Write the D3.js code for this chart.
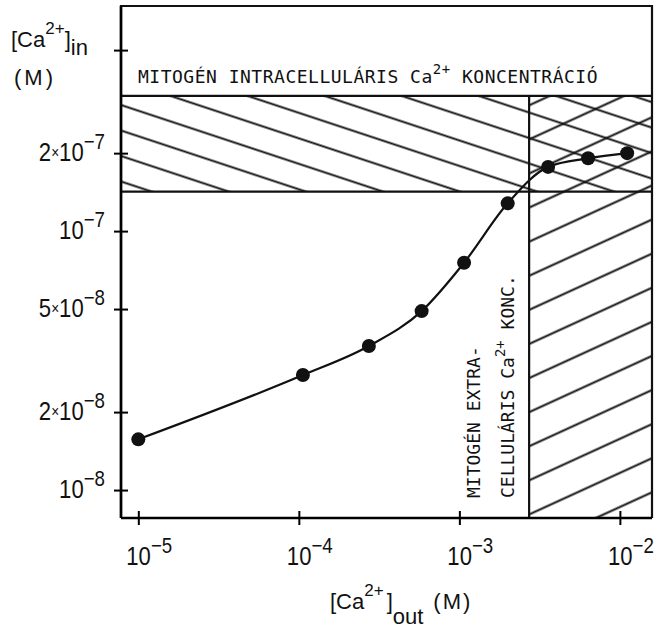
<!DOCTYPE html>
<html>
<head>
<meta charset="utf-8">
<script src="https://cdn.jsdelivr.net/npm/d3@7"></script>
<style>
  body { margin: 0; background: #fff; }
  svg { display: block; }
  .lbl { font-family: "Liberation Sans", Arial, sans-serif; fill: #111; }
  .mono { font-family: "DejaVu Sans Mono", monospace; fill: #111; }
</style>
</head>
<body>
<div id="chart"></div>
<script>
// data
const caOut = [1e-5, 1.06e-4, 2.73e-4, 5.82e-4, 1.07e-3, 2.0e-3, 3.57e-3, 6.34e-3, 1.11e-2];
const caIn = [1.57e-8, 2.78e-8, 3.60e-8, 4.91e-8, 7.55e-8, 1.28e-7, 1.77e-7, 1.91e-7, 2.0e-7];

const xTicks = [1e-5, 1e-4, 1e-3, 1e-2];
const xTickExp = ["\u22125", "\u22124", "\u22123", "\u22122"];
const yTicks = [1e-8, 2e-8, 5e-8, 1e-7, 2e-7, 5e-7];
const yTickMant = ["", "2\u00d7", "5\u00d7", "", "2\u00d7", null];
const yTickExp = ["\u22128", "\u22128", "\u22128", "\u22127", "\u22127", ""];

// mitogenic ranges
const mitogenIn = [1.42e-7, 3.33e-7];
const mitogenOut = 2.72e-3;

const xDomain = [7.8e-6, 1.585e-2];
const yDomain = [7.8e-9, 7.4e-7];

const W = 654, H = 633;
const margin = { top: 6, right: 2, bottom: 115, left: 121 };
const width = W - margin.left - margin.right;
const height = H - margin.top - margin.bottom;

const svg = d3.select("#chart").append("svg")
  .attr("width", W)
  .attr("height", H);

const x = d3.scaleLog().domain(xDomain).range([0, width]);
const y = d3.scaleLog().domain(yDomain).range([height, 0]);

const g = svg.append("g")
  .attr("transform", `translate(${margin.left},${margin.top})`);

// hatch patterns
const defs = svg.append("defs");
function hatch(id, angle, gap, ox, oy) {
  const p = defs.append("pattern")
    .attr("id", id)
    .attr("patternUnits", "userSpaceOnUse")
    .attr("width", 400)
    .attr("height", gap)
    .attr("patternTransform", `translate(${ox},${oy}) rotate(${angle}) translate(0,${-gap / 2})`);
  p.append("line")
    .attr("x1", -10).attr("x2", 410)
    .attr("y1", gap / 2).attr("y2", gap / 2)
    .attr("stroke", "#111")
    .attr("stroke-width", 2);
}
const bandTop = y(mitogenIn[1]);
const bandBot = y(mitogenIn[0]);
const bandX = x(mitogenOut);

hatch("hatchIn", 18.3, 24.2, 0, 99);
hatch("hatchOut", -24.6, 31, bandX, 235.7);

// intracellular band
g.append("rect")
  .attr("x", 0).attr("y", bandTop)
  .attr("width", width).attr("height", bandBot - bandTop)
  .attr("fill", "url(#hatchIn)");

// extracellular band
g.append("rect")
  .attr("x", bandX).attr("y", bandTop)
  .attr("width", width - bandX).attr("height", height - bandTop)
  .attr("fill", "url(#hatchOut)");

// band outlines
g.selectAll(".bandline")
  .data(mitogenIn)
  .join("line")
  .attr("x1", 0).attr("x2", width)
  .attr("y1", d => y(d)).attr("y2", d => y(d))
  .attr("stroke", "#111").attr("stroke-width", 2.2);

g.append("line")
  .attr("x1", bandX).attr("x2", bandX)
  .attr("y1", bandTop).attr("y2", height)
  .attr("stroke", "#111").attr("stroke-width", 2.2);

// frame
g.append("path")
  .attr("d", `M0,${height}V0H${width}V${height}`)
  .attr("fill", "none")
  .attr("stroke", "#111")
  .attr("stroke-width", 2.2);

// axes
const yAxis = g.append("g")
  .call(d3.axisLeft(y).tickValues(yTicks).tickSize(7).tickFormat(""));
yAxis.select(".domain").attr("stroke-width", 2.6).attr("d", `M0,${height}V0`);
yAxis.selectAll(".tick line").attr("x1", 7).attr("stroke-width", 2);

const xAxis = g.append("g")
  .attr("transform", `translate(0,${height})`)
  .call(d3.axisBottom(x).tickValues(xTicks).tickSize(7).tickFormat(""));
xAxis.select(".domain").attr("stroke-width", 2.6).attr("d", `M0,0H${width}`);
xAxis.selectAll(".tick line").attr("y1", -7).attr("stroke-width", 2);

// tick labels with superscripts
xTicks.forEach((t, i) => {
  const lab = g.append("g")
    .attr("transform", `translate(${x(t) - 12},${height + 47}) scale(0.85,1)`)
    .append("text").attr("class", "lbl").style("font-size", "26px");
  lab.append("tspan").text("10");
  lab.append("tspan").attr("dy", -12).style("font-size", "22px").text(xTickExp[i]);
});

yTicks.forEach((t, i) => {
  if (yTickMant[i] === null) return;
  const lab = g.append("g")
    .attr("transform", `translate(-16,${y(t) + 8}) scale(0.85,1)`)
    .append("text").attr("class", "lbl").attr("text-anchor", "end").style("font-size", "26px");
  if (yTickMant[i]) {
    lab.append("tspan").text(yTickMant[i].slice(0, 1));
    lab.append("tspan").style("font-size", "16px").attr("dy", -3).text(yTickMant[i].slice(1));
    lab.append("tspan").attr("dy", 3).text("10");
  } else {
    lab.append("tspan").text("10");
  }
  lab.append("tspan").attr("dy", -12).style("font-size", "22px").text(yTickExp[i]);
});

// axis titles
const yt = svg.append("text").attr("class", "lbl").style("font-size", "22px")
  .attr("x", 11).attr("y", 47);
yt.append("tspan").text("[Ca");
yt.append("tspan").attr("dy", -13).style("font-size", "17px").text("2+");
yt.append("tspan").attr("dy", 13).text("]");
yt.append("tspan").attr("dy", 8).text("in");

svg.append("text").attr("class", "lbl").style("font-size", "22px")
  .attr("x", 14).attr("y", 85).style("letter-spacing", "3px")
  .text("(M)");

const xt = svg.append("text").attr("class", "lbl").style("font-size", "22px")
  .attr("x", 330).attr("y", 609);
xt.append("tspan").text("[Ca");
xt.append("tspan").attr("dy", -13).style("font-size", "17px").text("2+");
xt.append("tspan").attr("dy", 13).attr("dx", 3).text("]");
xt.append("tspan").attr("dy", 15).text("out");
xt.append("tspan").attr("dy", -15).attr("dx", 10).style("letter-spacing", "2px").text("(M)");

// band labels
const tIn = g.append("text").attr("class", "mono").style("font-size", "18px")
  .style("letter-spacing", "0.5px")
  .attr("x", 17).attr("y", bandTop - 13);
tIn.append("tspan").text("MITOGÉN INTRACELLULÁRIS Ca");
tIn.append("tspan").attr("dy", -9).style("font-size", "14px").text("2+");
tIn.append("tspan").attr("dy", 9).text(" KONCENTRÁCIÓ");

g.append("text").attr("class", "mono").style("font-size", "18px")
  .attr("transform", `translate(${bandX - 49.5},${height - 20}) rotate(-90)`)
  .text("MITOGÉN EXTRA-");

const tOut = g.append("text").attr("class", "mono").style("font-size", "18px")
  .attr("transform", `translate(${bandX - 15.5},${height - 20}) rotate(-90)`);
tOut.append("tspan").text("CELLULÁRIS Ca");
tOut.append("tspan").attr("dy", -9).style("font-size", "14px").text("2+");
tOut.append("tspan").attr("dy", 9).text(" KONC.");

// curve and points
const pts = caOut.map((d, i) => [d, caIn[i]]);
const line = d3.line()
  .x(d => x(d[0]))
  .y(d => y(d[1]))
  .curve(d3.curveMonotoneX);

g.append("path")
  .datum(pts)
  .attr("d", line)
  .attr("fill", "none")
  .attr("stroke", "#111")
  .attr("stroke-width", 2.2);

g.selectAll(".pt")
  .data(pts)
  .join("circle")
  .attr("cx", d => x(d[0]))
  .attr("cy", d => y(d[1]))
  .attr("r", 7)
  .attr("fill", "#111");
</script>
</body>
</html>
